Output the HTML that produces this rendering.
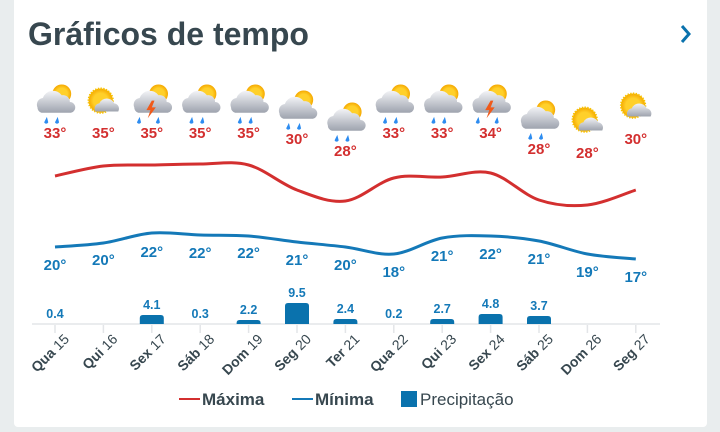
<!DOCTYPE html>
<html><head><meta charset="utf-8"><style>
html,body{margin:0;padding:0;background:#e9edee;}
body{width:720px;height:432px;overflow:hidden;position:relative;font-family:"Liberation Sans",Roboto,sans-serif;}
.card{position:absolute;left:14px;top:0;width:693px;height:427px;background:#fff;border-radius:0 0 4px 4px;}
svg{position:absolute;left:0;top:0;}
</style></head><body>
<div class="card"></div>
<svg id="s" width="720" height="432" xmlns="http://www.w3.org/2000/svg">
<defs>
<linearGradient id="cg" x1="0" y1="0" x2="0" y2="1"><stop offset="0" stop-color="#f2f3f6"/><stop offset="1" stop-color="#9ea3ae"/></linearGradient>
<radialGradient id="sg"><stop offset="0.6" stop-color="#ffd02a"/><stop offset="1" stop-color="#f5a800"/></radialGradient>
<g id="rain">
<circle cx="5" cy="-6" r="7" fill="url(#sg)"/>
<path d="M-13 4 a5 5 0 0 1 4-7 a8 8 0 0 1 14-2 a5 5 0 0 1 6 5 a4 4 0 0 1 0 8 h-21 a4 4 0 0 1-3-4z" fill="url(#cg)"/>
<path d="M-6 11 l-2 4 a1.6 1.6 0 0 0 3 0z M2 11 l-2 4 a1.6 1.6 0 0 0 3 0z" fill="#2d8cf0"/>
</g>
<g id="thunder">
<circle cx="5" cy="-6" r="7" fill="url(#sg)"/>
<path d="M-13 4 a5 5 0 0 1 4-7 a8 8 0 0 1 14-2 a5 5 0 0 1 6 5 a4 4 0 0 1 0 8 h-21 a4 4 0 0 1-3-4z" fill="url(#cg)"/>
<path d="M-9 11 l-2 4 a1.6 1.6 0 0 0 3 0z M5 11 l-2 4 a1.6 1.6 0 0 0 3 0z" fill="#2d8cf0"/>
<path d="M0 -1 l-4 7 h3 l-2 6 l6-8 h-3 l2-5z" fill="#f05a1a"/>
</g>
<g id="sun">
<circle cx="-2" cy="-1" r="9" fill="url(#sg)" stroke="#f7c200" stroke-width="1.5" stroke-dasharray="1 1"/>
<path d="M-6 7 a4 4 0 0 1 3-6 a6 6 0 0 1 11 0 a4 4 0 0 1 3 6z" fill="url(#cg)"/>
</g>
</defs>
<text x="28" y="45" font-size="32" font-weight="bold" fill="#37474f">Gráficos de tempo</text>
<path d="M682 26 l7 8 l-7 8" fill="none" stroke="#0a72ad" stroke-width="3"/>
<line x1="32" y1="324" x2="660" y2="324" stroke="#e3e5e8" stroke-width="1.5"/>
<g id="dyn"></g>
<g font-size="17" font-weight="bold" fill="#37474f">
<line x1="179" y1="399" x2="200" y2="399" stroke="#d32f2f" stroke-width="2"/>
<text x="202" y="405">Máxima</text>
<line x1="292" y1="399" x2="313" y2="399" stroke="#1479b8" stroke-width="2"/>
<text x="315" y="405">Mínima</text>
<rect x="401" y="391" width="16" height="16" fill="#0a72ad"/>
<text x="420" y="405" font-weight="normal">Precipitação</text>
</g>
</svg>
<script>
var xs=[],i;for(i=0;i<13;i++)xs.push(55+i*48.4);
var days=["Qua 15","Qui 16","Sex 17","Sáb 18","Dom 19","Seg 20","Ter 21","Qua 22","Qui 23","Sex 24","Sáb 25","Dom 26","Seg 27"];
var mx=[33,35,35,35,35,30,28,33,33,34,28,28,30];
var myY=[176,166,165,164,165,190,201,178,177,173,200,205,190];
var mlY=[138,138,138,138,138,144,156,138,138,138,154,158,144];
var icons=["rain","sun","thunder","rain","rain","rain","rain","rain","rain","thunder","rain","sun","sun"];
var iconY=[104,104,104,104,104,110,122,104,104,104,120,123,109];
var mn=[20,20,22,22,22,21,20,18,21,22,21,19,17];
var mnY=[247,243,233,235,236,242,247,254,238,236,241,254,259];
var mnL=[270,265,257,258,258,265,270,277,261,259,264,277,282];
var pr=["0.4","","4.1","0.3","2.2","9.5","2.4","0.2","2.7","4.8","3.7","",""];
var ph=[0,0,9,0,4,21,5,0,5,10,8,0,0];
function path(ys){var d="M"+xs[0]+" "+ys[0];for(var i=0;i<ys.length-1;i++){var p0=i?i-1:0,p3=i+2<ys.length?i+2:i+1;
var c1x=xs[i]+(xs[i+1]-xs[p0])/6,c1y=ys[i]+(ys[i+1]-ys[p0])/6,c2x=xs[i+1]-(xs[p3]-xs[i])/6,c2y=ys[i+1]-(ys[p3]-ys[i])/6;
d+=" C"+c1x+" "+c1y+" "+c2x+" "+c2y+" "+xs[i+1]+" "+ys[i+1];}return d;}
var h="";
h+='<path d="'+path(myY)+'" fill="none" stroke="#d32f2f" stroke-width="3"/>';
h+='<path d="'+path(mnY)+'" fill="none" stroke="#1479b8" stroke-width="3"/>';
for(i=0;i<13;i++){var x=xs[i];
h+='<use href="#'+icons[i]+'" transform="translate('+x+' '+(iconY[i]-2)+') scale(1.35)"/>';
h+='<text x="'+x+'" y="'+mlY[i]+'" font-size="15" font-weight="bold" fill="#d32f2f" text-anchor="middle">'+mx[i]+'°</text>';
h+='<text x="'+x+'" y="'+mnL[i]+'" font-size="15" font-weight="bold" fill="#1479b8" text-anchor="middle">'+mn[i]+'°</text>';
h+='<line x1="'+x+'" y1="325" x2="'+x+'" y2="333" stroke="#e3e5e8" stroke-width="1.5"/>';
if(ph[i])h+='<path d="M'+(x-12)+' 324 v'+(-ph[i]+3)+' q0 -3 3 -3 h18 q3 0 3 3 v'+(ph[i]-3)+'z" fill="#0a72ad"/>';
if(pr[i])h+='<text x="'+x+'" y="'+(324-ph[i]-6)+'" font-size="12.5" font-weight="bold" fill="#1479b8" text-anchor="middle">'+pr[i]+'</text>';
var p=days[i].split(" ");
h+='<text transform="translate('+(x+15)+' 340) rotate(-45)" font-size="14" fill="#37474f" text-anchor="end"><tspan font-weight="bold">'+p[0]+'</tspan> '+p[1]+'</text>';}
document.getElementById("dyn").innerHTML=h;
</script>
</body></html>
